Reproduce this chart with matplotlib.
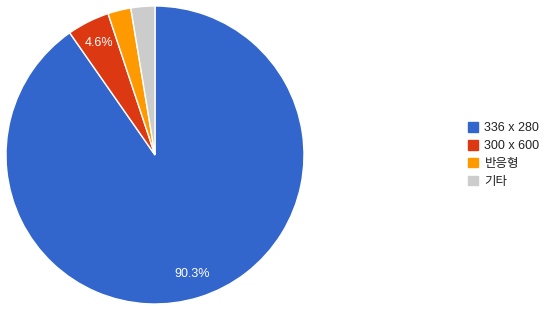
import matplotlib
matplotlib.use("Agg")
import matplotlib.pyplot as plt
from matplotlib.patches import Patch

plt.rcParams['font.family'] = ['Liberation Sans', 'Noto Sans CJK KR', 'DejaVu Sans']

labels = ['336 x 280', '300 x 600', '반응형', '기타']
values = [90.3, 4.6, 2.5, 2.6]
colors = ['#3366cc', '#dc3912', '#ff9900', '#cccccc']

fig = plt.figure(figsize=(5.5, 3.1), dpi=100)
ax = fig.add_axes([6 / 550, 6 / 310, 298 / 550, 298 / 310])

def pct_label(p):
    # small slices get no label, like the original
    return '%.1f%%' % p if p >= 4 else ''

wedges, texts, autotexts = ax.pie(
    values, colors=colors, startangle=90, counterclock=False,
    autopct=pct_label, pctdistance=0.84,
    wedgeprops=dict(edgecolor='white', linewidth=1),
    textprops=dict(color='white', fontsize=9))
ax.set_xlim(-1, 1)
ax.set_ylim(-1, 1)
ax.set_aspect('equal')

handles = [Patch(facecolor=c, edgecolor=c) for c in colors]
fig.legend(handles, labels, loc='upper left', bbox_to_anchor=(462 / 550, 1 - 116 / 310),
           frameon=False, fontsize=9, handlelength=0.8, handleheight=0.8,
           handletextpad=0.5, labelspacing=0.45, borderpad=0, labelcolor='#222222')

fig.savefig('out.png', dpi=100)
